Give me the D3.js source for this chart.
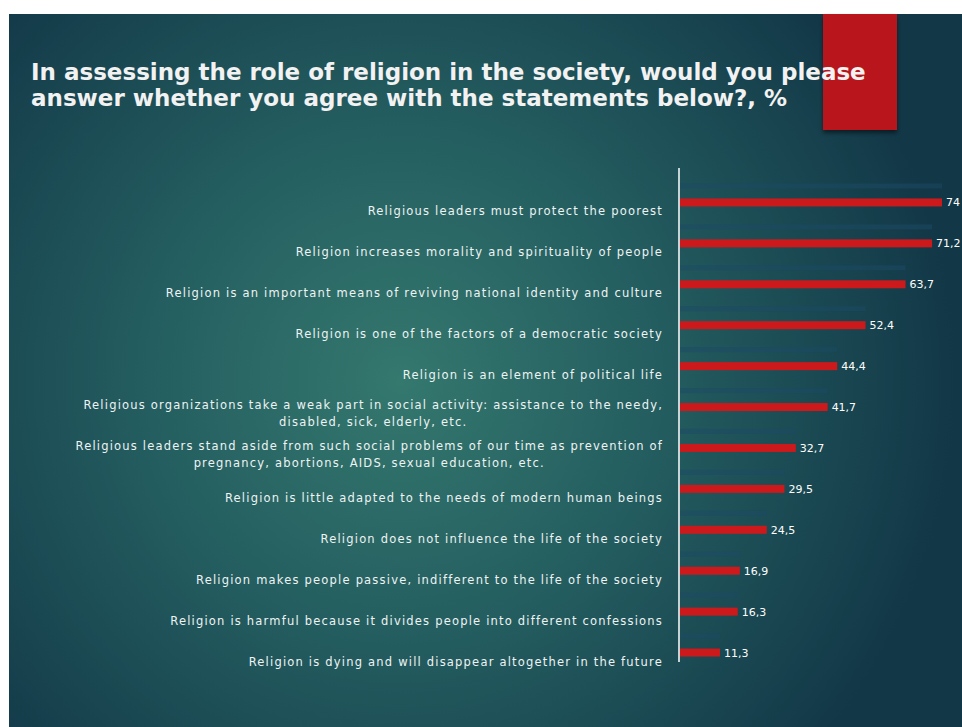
<!DOCTYPE html>
<html>
<head>
<meta charset="utf-8">
<script src="https://cdn.jsdelivr.net/npm/d3@7/dist/d3.min.js"></script>
<style>
  html, body { margin: 0; padding: 0; background: #ffffff; }
  svg { display: block; }
</style>
</head>
<body>
<script>
const titleLines = [
  "In assessing the role of religion in the society, would you please",
  "answer whether you agree with the statements below?, %"
];
const categories = [
  ["Religious leaders must protect the poorest"],
  ["Religion increases morality and spirituality of people"],
  ["Religion is an important means of reviving national identity and culture"],
  ["Religion is one of the factors of a democratic society"],
  ["Religion is an element of political life"],
  ["Religious organizations take a weak part in social activity: assistance to the needy,", "disabled, sick, elderly, etc."],
  ["Religious leaders stand aside from such social problems of our time as prevention of", "pregnancy, abortions, AIDS, sexual education, etc."],
  ["Religion is little adapted to the needs of modern human beings"],
  ["Religion does not influence the life of the society"],
  ["Religion makes people passive, indifferent to the life of the society"],
  ["Religion is harmful because it divides people into different confessions"],
  ["Religion is dying and will disappear altogether in the future"]
];
const values = [74, 71.2, 63.7, 52.4, 44.4, 41.7, 32.7, 29.5, 24.5, 16.9, 16.3, 11.3];
const valueLabels = ["74", "71,2", "63,7", "52,4", "44,4", "41,7", "32,7", "29,5", "24,5", "16,9", "16,3", "11,3"];

const W = 962, H = 727;
const svg = d3.select("body").append("svg").attr("width", W).attr("height", H);
const defs = svg.append("defs");

const rg = defs.append("radialGradient").attr("id", "bg")
  .attr("gradientUnits", "userSpaceOnUse")
  .attr("cx", 400).attr("cy", 380).attr("r", 560);
rg.append("stop").attr("offset", "0%").attr("stop-color", "#34786e");
rg.append("stop").attr("offset", "45%").attr("stop-color", "#245e60");
rg.append("stop").attr("offset", "100%").attr("stop-color", "#123747");

const sh = defs.append("filter").attr("id", "shadow").attr("x", "-20%").attr("y", "-20%").attr("width", "140%").attr("height", "150%");
sh.append("feDropShadow").attr("dx", 0).attr("dy", 3).attr("stdDeviation", 2).attr("flood-color", "#000").attr("flood-opacity", 0.5);

// slide background
svg.append("rect").attr("x", 9).attr("y", 14).attr("width", W - 9).attr("height", H - 14).attr("fill", "url(#bg)");

// red accent block
svg.append("rect").attr("x", 823).attr("y", 14).attr("width", 74).attr("height", 116)
  .attr("fill", "#b8181c").attr("filter", "url(#shadow)");

// title
const title = svg.append("text").attr("fill", "#f2f2f2")
  .attr("font-family", "'DejaVu Sans', sans-serif").attr("font-weight", "bold").attr("font-size", 23);
title.selectAll("tspan").data(titleLines).join("tspan")
  .attr("x", 31).attr("y", (d, i) => 80 + i * 26).text(d => d);

// scales
const y = d3.scalePoint().domain(d3.range(categories.length)).range([182, 673]).padding(0.5);
const x = d3.scaleLinear().domain([0, 74]).range([680, 942]);

// faint shadow bands
svg.append("g").selectAll("rect").data(values).join("rect")
  .attr("x", x(0)).attr("y", (d, i) => y(i) - 19)
  .attr("width", d => x(d) - x(0)).attr("height", 5)
  .attr("fill", "#1c4a66").attr("opacity", 0.5);

// bars
svg.append("g").selectAll("rect").data(values).join("rect")
  .attr("x", x(0)).attr("y", (d, i) => y(i) - 4)
  .attr("width", d => x(d) - x(0)).attr("height", 8)
  .attr("fill", "#cc1a1c");

// axis line
svg.append("line").attr("x1", 679).attr("x2", 679).attr("y1", 168).attr("y2", 662)
  .attr("stroke", "#ffffff").attr("stroke-width", 1.5);

// value labels
svg.append("g").selectAll("text").data(values).join("text")
  .attr("x", d => x(d) + 4).attr("y", (d, i) => y(i) + 4)
  .attr("fill", "#ffffff").attr("font-family", "'DejaVu Sans', sans-serif").attr("font-size", 11)
  .text((d, i) => valueLabels[i]);

// category labels
const lab = svg.append("g").attr("fill", "#eef3f3")
  .attr("font-family", "'DejaVu Sans', sans-serif").attr("font-size", 11.5)
  .attr("letter-spacing", 1.2).attr("text-anchor", "end");
categories.forEach((lines, i) => {
  if (lines.length === 1) {
    lab.append("text").attr("x", 663).attr("y", y(i) + 13).text(lines[0]);
  } else {
    const t1 = lab.append("text").attr("x", 663).attr("y", y(i) + 2).text(lines[0]);
    const w1 = t1.node().getComputedTextLength();
    lab.append("text").attr("x", 663 - w1 / 2).attr("text-anchor", "middle")
      .attr("y", y(i) + 19).text(lines[1]);
  }
});
</script>
</body>
</html>
